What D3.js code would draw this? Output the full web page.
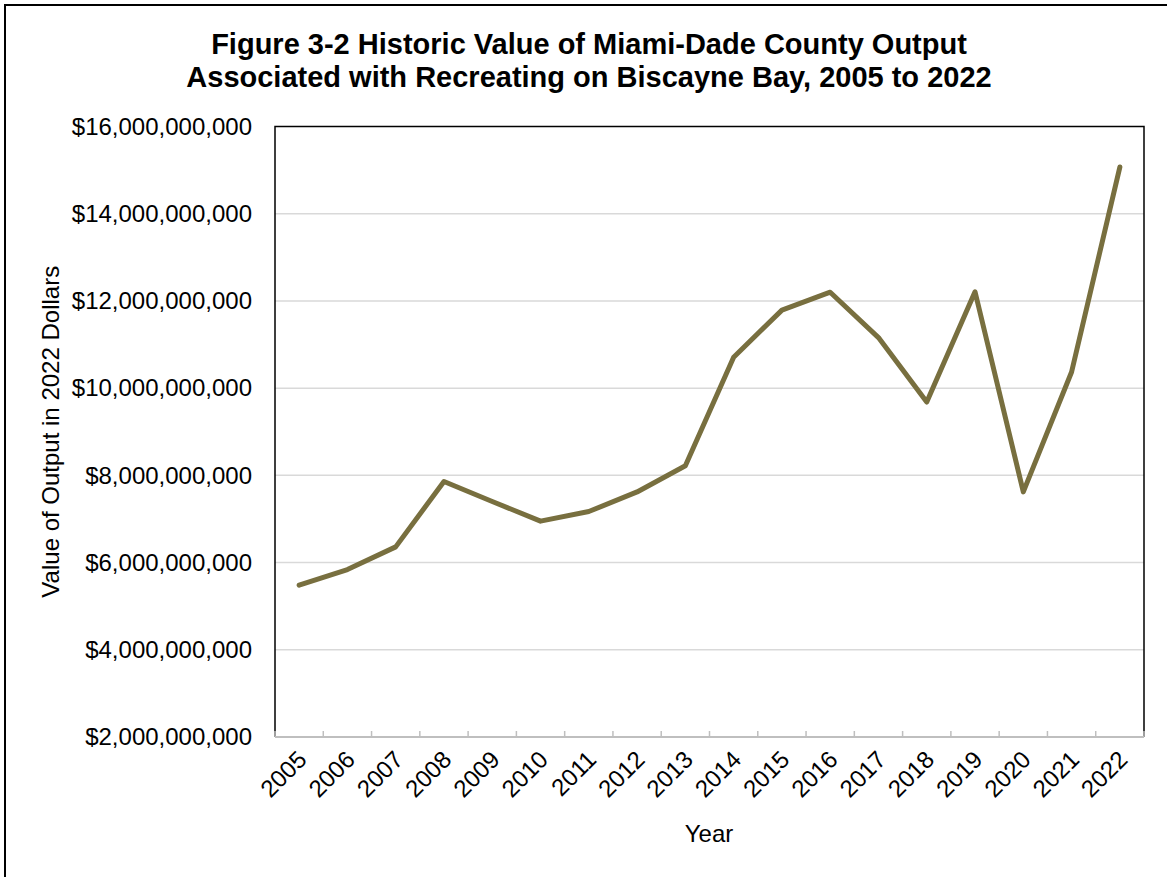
<!DOCTYPE html>
<html><head><meta charset="utf-8">
<script src="https://cdn.jsdelivr.net/npm/d3@7"></script>
<style>body{margin:0;background:#fff}svg{display:block}text{font-family:Arial,"Liberation Sans",sans-serif}</style>
</head><body>
<svg id="c" width="1167" height="877"></svg>
<script>
const years = ["2005","2006","2007","2008","2009","2010","2011","2012","2013","2014","2015","2016","2017","2018","2019","2020","2021","2022"];
const outputValues = [5.48e9,5.84e9,6.36e9,7.86e9,7.40e9,6.95e9,7.17e9,7.62e9,8.22e9,10.71e9,11.79e9,12.20e9,11.16e9,9.68e9,12.21e9,7.62e9,10.37e9,15.07e9];
const yTicks = [2e9,4e9,6e9,8e9,10e9,12e9,14e9,16e9];
const titleLines = ["Figure 3-2 Historic Value of Miami-Dade County Output","Associated with Recreating on Biscayne Bay, 2005 to 2022"];

const svg = d3.select("#c");
const L=275,R=1144,T=126.5,B=737;
const FS=24;
const x = d3.scaleBand().domain(years).range([L,R]);
const y = d3.scaleLinear().domain([2e9,16e9]).range([B,T]);
const fmt = v => "$" + d3.format(",")(v);

// outer border
svg.append("rect").attr("x",5).attr("y",5).attr("width",1200).attr("height",900)
  .attr("fill","none").attr("stroke","#000").attr("stroke-width",2);

// title
svg.append("text").attr("x",589).attr("text-anchor","middle").attr("font-weight","bold").attr("font-size",29)
  .selectAll("tspan").data(titleLines).join("tspan").attr("x",589).attr("y",(d,i)=>54+i*33).text(d=>d);

// gridlines
svg.append("g").selectAll("line").data(yTicks.filter(d=>d>2e9&&d<16e9)).join("line")
  .attr("x1",L).attr("x2",R).attr("y1",d=>y(d)).attr("y2",d=>y(d))
  .attr("stroke","#d9d9d9").attr("stroke-width",1.5);

// plot border left/top/right
svg.append("path").attr("d",`M${L},${B}V${T}H${R}V${B}`).attr("fill","none").attr("stroke","#000").attr("stroke-width",1.5);

// y axis labels
const ya = svg.append("g").attr("transform",`translate(${L},0)`).call(d3.axisLeft(y).tickValues(yTicks).tickFormat(fmt).tickSize(0).tickPadding(23));
ya.select(".domain").remove();
ya.selectAll("text").attr("font-size",FS).attr("fill","#000").attr("font-family","Arial, 'Liberation Sans', sans-serif");

// x axis
const xa = svg.append("g").attr("transform",`translate(0,${B})`).call(d3.axisBottom(x).tickSize(0).tickPadding(0));
xa.select(".domain").remove();
svg.append("line").attr("x1",L).attr("x2",R).attr("y1",B).attr("y2",B).attr("stroke","#bfbfbf").attr("stroke-width",2);
const bounds = years.map(d=>x(d)).concat([R]);
svg.append("g").selectAll("line").data(bounds).join("line")
  .attr("x1",d=>d).attr("x2",d=>d).attr("y1",B).attr("y2",B-6).attr("stroke","#bfbfbf").attr("stroke-width",1.5);
xa.selectAll("text").attr("font-size",FS).attr("fill","#000").attr("font-family","Arial, 'Liberation Sans', sans-serif")
  .attr("text-anchor","end").attr("dy",0)
  .attr("transform",d=>`translate(${x.bandwidth()/2+9},${24}) rotate(-45)`).attr("x",0).attr("y",0);
xa.selectAll(".tick").attr("transform",d=>`translate(${x(d)},0)`);

// axis titles
svg.append("text").attr("x",709).attr("y",842).attr("text-anchor","middle").attr("font-size",FS).text("Year");
svg.append("text").attr("transform",`translate(59,${(T+B)/2}) rotate(-90)`).attr("text-anchor","middle").attr("font-size",FS).text("Value of Output in 2022 Dollars");

// line
const line = d3.line().x(d=>x(d.year)+x.bandwidth()/2).y(d=>y(d.v));
svg.append("path").datum(years.map((yr,i)=>({year:yr,v:outputValues[i]})))
  .attr("d",line).attr("fill","none").attr("stroke","#786f3f").attr("stroke-width",5)
  .attr("stroke-linejoin","round").attr("stroke-linecap","round");
</script>
</body></html>
